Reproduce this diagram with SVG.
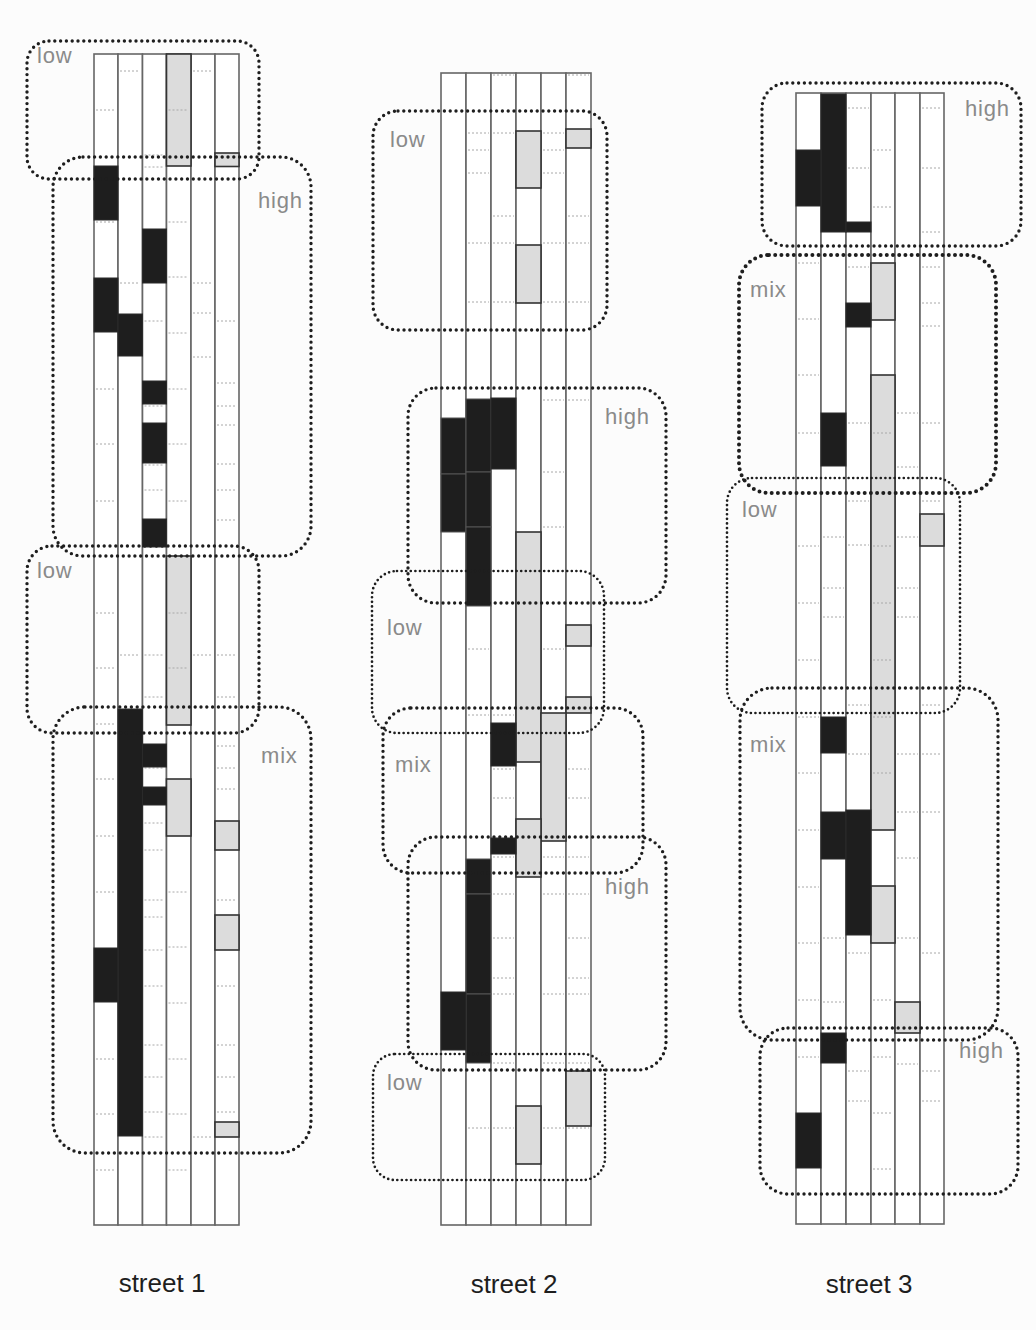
<svg xmlns="http://www.w3.org/2000/svg" width="1036" height="1330" viewBox="0 0 1036 1330">
<style>
.bg{fill:#fcfcfc}
.col{fill:#ffffff;stroke:#666;stroke-width:1.6}
.blk{fill:#1e1e1e;stroke:#2a2a2a;stroke-width:1}
.blks{fill:#1e1e1e;stroke:#555;stroke-width:1}
.gry{fill:#dcdcdc;stroke:#333;stroke-width:1.6}
.grid{fill:none;stroke:#a8a8a8;stroke-width:1;stroke-dasharray:2 2}
.zone{fill:none;stroke:#1e1e1e;stroke-width:3.4;stroke-dasharray:0 5.8;stroke-linecap:round}
.zone.fine{stroke-width:2.7;stroke-dasharray:0 4.6}
.zone.bold{stroke-width:4;stroke-dasharray:0 6.2}
.lbl{font-family:"Liberation Sans",Arial,sans-serif;font-size:22px;fill:#8a8a8a;letter-spacing:0.8px}
.title{font-family:"Liberation Sans",Arial,sans-serif;font-size:26px;fill:#1e1e1e;text-anchor:middle}
</style>
<rect class="bg" x="0" y="0" width="1036" height="1330"/>

<g id="street1">
  <g id="s1-columns">
    <rect class="col" x="94" y="54" width="24" height="1171"/>
    <rect class="col" x="118" y="54" width="24.5" height="1171"/>
    <rect class="col" x="142.5" y="54" width="24" height="1171"/>
    <rect class="col" x="166.5" y="54" width="24.5" height="1171"/>
    <rect class="col" x="191" y="54" width="24" height="1171"/>
    <rect class="col" x="215" y="54" width="24" height="1171"/>
  </g>
  <g id="s1-gray">
    <rect class="gry" x="166.5" y="54" width="24.5" height="112"/>
    <rect class="gry" x="215" y="153" width="24" height="13.5"/>
    <rect class="gry" x="166.5" y="556" width="24.5" height="169"/>
    <rect class="gry" x="166.5" y="779" width="24.5" height="57"/>
    <rect class="gry" x="215" y="821" width="24" height="29"/>
    <rect class="gry" x="215" y="915" width="24" height="35"/>
    <rect class="gry" x="215" y="1122" width="24" height="15"/>
  </g>
  <path class="grid" d="M120 71h20M96 110h20M168.5 110h20M193 71h20M144.5 155h20M144.5 167h20M96 222h20M168.5 222h20M168.5 277h20M144.5 277h20M120 283h20M193 283h20M193 313h20M144.5 321h20M217 321h20M168.5 333h20M193 357h20M96 389h20M168.5 389h20M217 383h20M144.5 406h20M217 406h20M217 425h20M96 444h20M168.5 444h20M217 464h20M144.5 465h20M144.5 490h20M217 490h20M96 501h20M168.5 501h20M217 520h20M96 613h20M168.5 613h20M120 655h20M144.5 655h20M193 655h20M217 655h20M96 668h20M168.5 668h20M144.5 697h20M217 697h20M96 724h20M217 746h20M144.5 768h20M217 768h20M96 779h20M217 789h20M144.5 823h20M96 836h20M144.5 850h20M96 892h20M168.5 892h20M144.5 900h20M217 900h20M144.5 917h20M144.5 950h20M168.5 947h20M144.5 986h20M217 986h20M168.5 1003h20M144.5 1045h20M217 1045h20M96 1059h20M168.5 1059h20M144.5 1077h20M217 1077h20M96 1114h20M168.5 1114h20M144.5 1112h20M217 1112h20M144.5 1137h20M193 1137h20M96 1170h20M168.5 1170h20"/>
  <g id="s1-black">
    <rect class="blk" x="94" y="166" width="24" height="54"/>
    <rect class="blk" x="142.5" y="229" width="24" height="54"/>
    <rect class="blk" x="94" y="278" width="24" height="54"/>
    <rect class="blk" x="118" y="314" width="24.5" height="42"/>
    <rect class="blk" x="142.5" y="381" width="24" height="23"/>
    <rect class="blk" x="142.5" y="423" width="24" height="40"/>
    <rect class="blk" x="142.5" y="519" width="24" height="28"/>
    <rect class="blk" x="118" y="709" width="24.5" height="427"/>
    <rect class="blk" x="142.5" y="744" width="24" height="23"/>
    <rect class="blk" x="142.5" y="787" width="24" height="18"/>
    <rect class="blk" x="94" y="948" width="24" height="54"/>
  </g>
</g>

<g id="street2">
  <g id="s2-columns">
    <rect class="col" x="441" y="73" width="25" height="1152"/>
    <rect class="col" x="466" y="73" width="25" height="1152"/>
    <rect class="col" x="491" y="73" width="25" height="1152"/>
    <rect class="col" x="516" y="73" width="25" height="1152"/>
    <rect class="col" x="541" y="73" width="25" height="1152"/>
    <rect class="col" x="566" y="73" width="25" height="1152"/>
  </g>
  <g id="s2-gray">
    <rect class="gry" x="516" y="131" width="25" height="57"/>
    <rect class="gry" x="566" y="129" width="25" height="19"/>
    <rect class="gry" x="516" y="245" width="25" height="58"/>
    <rect class="gry" x="516" y="532" width="25" height="230"/>
    <rect class="gry" x="566" y="625" width="25" height="21"/>
    <rect class="gry" x="566" y="697" width="25" height="16"/>
    <rect class="gry" x="541" y="713" width="25" height="128"/>
    <rect class="gry" x="516" y="819" width="25" height="58"/>
    <rect class="gry" x="516" y="1106" width="25" height="58"/>
    <rect class="gry" x="566" y="1071" width="25" height="55"/>
  </g>
  <path class="grid" d="M493 75h21M568 75h21M468 133h21M493 133h21M543 133h21M468 150h21M543 150h21M468 173h21M543 173h21M493 216h21M568 216h21M468 243h21M493 243h21M543 243h21M568 243h21M468 302h21M493 302h21M543 302h21M568 302h21M543 400h21M568 400h21M543 472h21M543 527h21M468 649h21M543 649h21M468 715h21M493 715h21M493 769h21M568 769h21M493 798h21M568 798h21M493 857h21M543 857h21M568 857h21M493 894h21M543 894h21M568 894h21M493 938h21M568 938h21M493 978h21M568 978h21M493 994h21M543 994h21M568 994h21M493 1063h21M543 1063h21M568 1063h21M468 1128h21M493 1128h21M543 1128h21M568 1128h21"/>
  <g id="s2-black">
    <rect class="blks" x="441" y="418" width="25" height="56"/>
    <rect class="blks" x="441" y="474" width="25" height="58"/>
    <rect class="blks" x="466" y="399" width="25" height="73"/>
    <rect class="blks" x="466" y="472" width="25" height="55"/>
    <rect class="blks" x="466" y="527" width="25" height="79"/>
    <rect class="blk" x="491" y="398" width="25" height="71"/>
    <rect class="blk" x="491" y="723" width="25" height="43"/>
    <rect class="blk" x="491" y="838" width="25" height="16"/>
    <rect class="blks" x="466" y="859" width="25" height="35"/>
    <rect class="blks" x="466" y="894" width="25" height="100"/>
    <rect class="blks" x="466" y="994" width="25" height="69"/>
    <rect class="blk" x="441" y="992" width="25" height="58"/>
  </g>
</g>

<g id="street3">
  <g id="s3-columns">
    <rect class="col" x="796" y="93" width="25" height="1131"/>
    <rect class="col" x="821" y="93" width="25" height="1131"/>
    <rect class="col" x="846" y="93" width="25" height="1131"/>
    <rect class="col" x="871" y="93" width="24" height="1131"/>
    <rect class="col" x="895" y="93" width="25" height="1131"/>
    <rect class="col" x="920" y="93" width="24" height="1131"/>
  </g>
  <g id="s3-gray">
    <rect class="gry" x="871" y="263" width="24" height="57"/>
    <rect class="gry" x="871" y="375" width="24" height="455"/>
    <rect class="gry" x="920" y="514" width="24" height="32"/>
    <rect class="gry" x="871" y="886" width="24" height="57"/>
    <rect class="gry" x="895" y="1002" width="25" height="31"/>
  </g>
  <path class="grid" d="M848 108h21M922 108h20M873 150h20M848 168h21M922 168h20M873 207h20M922 232h20M798 263h21M848 267h21M922 267h20M922 303h20M798 319h21M922 326h20M798 375h21M897 413h21M848 423h21M922 423h20M798 433h21M873 433h20M897 467h21M848 501h21M922 501h20M823 537h21M897 537h21M798 546h21M848 545h21M873 546h20M823 588h21M897 588h21M798 603h21M873 603h20M823 617h21M897 617h21M798 660h21M873 660h20M848 705h21M922 705h20M798 717h21M873 717h20M848 754h21M897 754h21M922 754h20M798 773h21M873 773h20M897 812h21M922 812h20M798 830h21M897 858h21M798 887h21M823 938h21M897 938h21M798 943h21M848 953h21M922 953h20M798 1000h21M823 1002h21M873 1000h20M798 1057h21M873 1057h20M897 1064h21M848 1071h21M922 1071h20M848 1101h21M922 1101h20M873 1113h20M873 1169h20"/>
  <g id="s3-black">
    <rect class="blk" x="821" y="94" width="25" height="138"/>
    <rect class="blk" x="796" y="150" width="25" height="56"/>
    <rect class="blk" x="846" y="222" width="25" height="10"/>
    <rect class="blk" x="846" y="303" width="25" height="24"/>
    <rect class="blk" x="821" y="413" width="25" height="53"/>
    <rect class="blk" x="821" y="717" width="25" height="36"/>
    <rect class="blk" x="821" y="812" width="25" height="47"/>
    <rect class="blk" x="846" y="810" width="25" height="125"/>
    <rect class="blk" x="821" y="1033" width="25" height="30"/>
    <rect class="blk" x="796" y="1113" width="25" height="55"/>
  </g>
</g>

<g id="zones">
  <g id="s1-low1"><rect class="zone" x="27" y="41" width="232" height="138" rx="22"/><text class="lbl" x="37" y="63">low</text></g>
  <g id="s1-high1"><rect class="zone" x="53" y="157" width="258" height="399" rx="30"/><text class="lbl" x="258" y="208">high</text></g>
  <g id="s1-low2"><rect class="zone" x="27" y="546" width="232" height="187" rx="25"/><text class="lbl" x="37" y="578">low</text></g>
  <g id="s1-mix1"><rect class="zone" x="53" y="707" width="258" height="446" rx="32"/><text class="lbl" x="261" y="763">mix</text></g>

  <g id="s2-low1"><rect class="zone" x="373" y="111" width="234" height="219" rx="25"/><text class="lbl" x="390" y="147">low</text></g>
  <g id="s2-high1"><rect class="zone" x="408" y="388" width="258" height="215" rx="28"/><text class="lbl" x="605" y="424">high</text></g>
  <g id="s2-low2"><rect class="zone fine" x="372" y="571" width="232" height="162" rx="25"/><text class="lbl" x="387" y="635">low</text></g>
  <g id="s2-mix1"><rect class="zone" x="383" y="708" width="260" height="165" rx="28"/><text class="lbl" x="395" y="772">mix</text></g>
  <g id="s2-high2"><rect class="zone" x="408" y="837" width="258" height="233" rx="28"/><text class="lbl" x="605" y="894">high</text></g>
  <g id="s2-low3"><rect class="zone fine" x="373" y="1054" width="232" height="126" rx="22"/><text class="lbl" x="387" y="1090">low</text></g>

  <g id="s3-high1"><rect class="zone" x="762" y="83" width="259" height="163" rx="25"/><text class="lbl" x="965" y="116">high</text></g>
  <g id="s3-mix1"><rect class="zone bold" x="739" y="255" width="257" height="238" rx="30"/><text class="lbl" x="750" y="297">mix</text></g>
  <g id="s3-low1"><rect class="zone fine" x="727" y="478" width="233" height="235" rx="25"/><text class="lbl" x="742" y="517">low</text></g>
  <g id="s3-mix2"><rect class="zone" x="740" y="688" width="258" height="352" rx="32"/><text class="lbl" x="750" y="752">mix</text></g>
  <g id="s3-high2"><rect class="zone" x="760" y="1028" width="258" height="166" rx="28"/><text class="lbl" x="959" y="1058">high</text></g>
</g>

<g id="titles">
  <text class="title" x="162" y="1292">street 1</text>
  <text class="title" x="514" y="1293">street 2</text>
  <text class="title" x="869" y="1293">street 3</text>
</g>
</svg>
